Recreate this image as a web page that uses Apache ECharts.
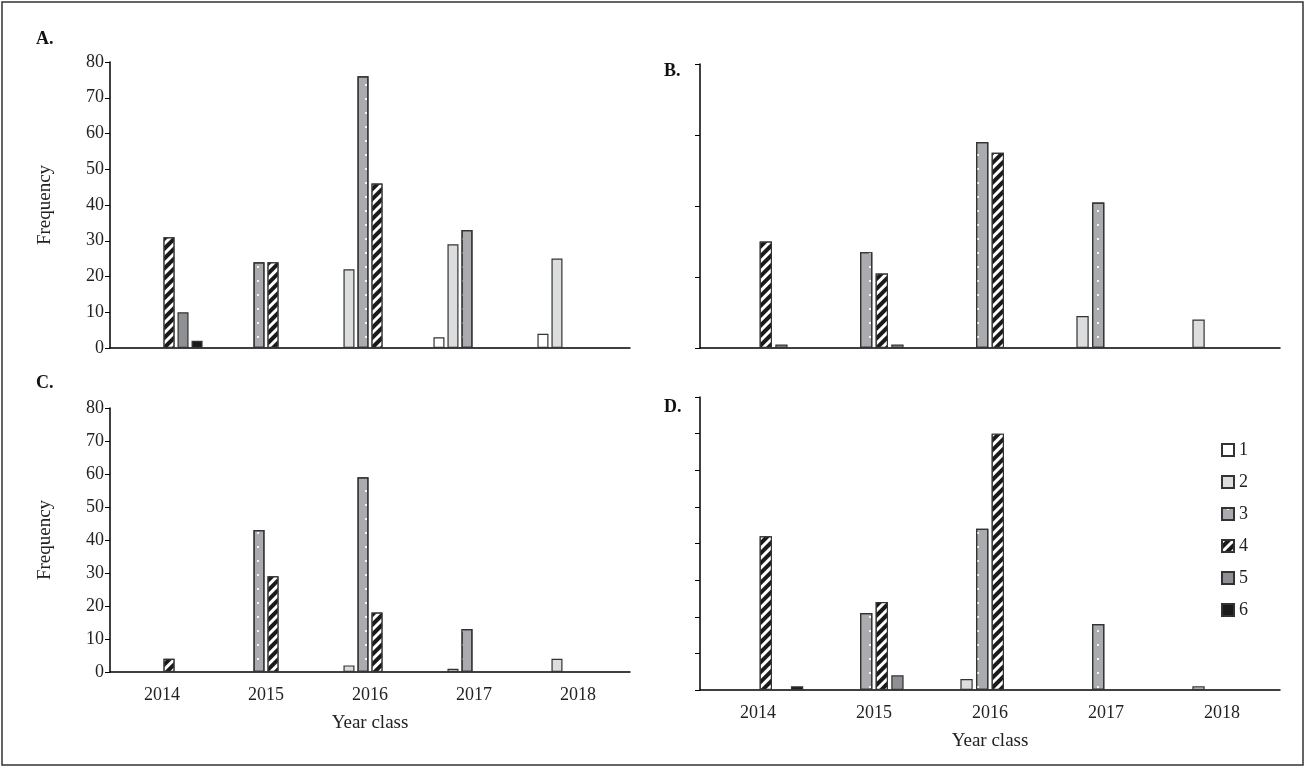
<!DOCTYPE html>
<html>
<head>
<meta charset="utf-8">
<script src="https://cdn.jsdelivr.net/npm/echarts@6/dist/echarts.min.js"></script>
<style>
  html, body { margin: 0; padding: 0; background: #fff; }
  #chart { width: 1306px; height: 768px; }
</style>
</head>
<body>
<div id="chart"></div>
<script>
// 年级别
const years = ['2014', '2015', '2016', '2017', '2018'];
const ageNames = ['1', '2', '3', '4', '5', '6'];

// 各面板数据 (每行为一个年龄组, 按年份)
const panelA = [
  [null, null, null, 3, 4],
  [null, null, 22, 29, 25],
  [null, 24, 76, 33, null],
  [31, 24, 46, null, null],
  [10, null, null, null, null],
  [2, null, null, null, null]
];
const panelB = [
  [null, null, null, null, null],
  [null, null, null, 9, 8],
  [null, 27, 58, 41, null],
  [30, 21, 55, null, null],
  [1, 1, null, null, null],
  [null, null, null, null, null]
];
const panelC = [
  [null, null, null, null, null],
  [null, null, 2, 1, 4],
  [null, 43, 59, 13, null],
  [4, 29, 18, null, null],
  [null, null, null, null, null],
  [null, null, null, null, null]
];
const panelD = [
  [null, null, null, null, null],
  [null, null, 3, null, 1],
  [null, 21, 44, 18, null],
  [42, 24, 70, null, null],
  [null, 4, null, null, null],
  [1, null, null, null, null]
];

const serif = 'Liberation Serif';
const fills = [
  { color: '#ffffff' },
  { color: '#dcdddf' },
  { color: '#a9abae', decal: { symbol: 'rect', symbolSize: 1, color: '#f4f4f4', dashArrayX: [[0, 5, 2, 5]], dashArrayY: [2, 12] } },
  { color: '#1a1a1a', decal: { symbol: 'rect', color: '#ffffff', dashArrayX: [1, 0], dashArrayY: [3, 4], rotation: -Math.PI / 4 } },
  { color: '#8e9093' },
  { color: '#1a1a1a' }
];

const grids = [
  { left: 110, top: 62, width: 520, height: 286 },
  { left: 700, top: 64, width: 580, height: 284 },
  { left: 110, top: 408, width: 520, height: 264 },
  { left: 700, top: 397, width: 580, height: 293 }
];
const showLabels = [false, false, true, true];
const showYLabels = [true, false, true, false];
const yIntervals = [10, 20, 10, 10];
const panels = [panelA, panelB, panelC, panelD];

let dom = echarts.init(document.getElementById('chart'));

let xAxis = grids.map((g, i) => ({
  type: 'category',
  gridIndex: i,
  data: years,
  axisLine: { lineStyle: { color: '#000', width: 1.5 } },
  axisTick: { show: false },
  axisLabel: { show: showLabels[i], color: '#222', fontFamily: serif, fontSize: 18, margin: 14 },
  name: showLabels[i] ? 'Year class' : '',
  nameLocation: 'middle',
  nameGap: 42,
  nameTextStyle: { color: '#222', fontFamily: serif, fontSize: 19 }
}));

let yAxis = grids.map((g, i) => ({
  type: 'value',
  gridIndex: i,
  min: 0,
  max: 80,
  interval: yIntervals[i],
  splitLine: { show: false },
  axisLine: { show: true, lineStyle: { color: '#000', width: 1.5 } },
  axisTick: { show: true, length: 5, lineStyle: { color: '#000' } },
  axisLabel: { show: showYLabels[i], color: '#222', fontFamily: serif, fontSize: 18, margin: 6 },
  name: showYLabels[i] ? 'Frequency' : '',
  nameLocation: 'middle',
  nameGap: 55,
  nameTextStyle: { color: '#222', fontFamily: serif, fontSize: 19 }
}));

let series = [];
panels.forEach((p, i) => {
  p.forEach((row, k) => {
    series.push({
      name: ageNames[k],
      type: 'bar',
      xAxisIndex: i,
      yAxisIndex: i,
      data: row,
      barGap: '27%',
      barCategoryGap: '22%',
      itemStyle: Object.assign({ borderColor: '#333', borderWidth: 1.2 }, fills[k])
    });
  });
});

dom.setOption({
  animation: false,
  aria: { enabled: true, decal: { show: false } },
  grid: grids,
  xAxis: xAxis,
  yAxis: yAxis,
  legend: {
    data: ageNames,
    icon: 'rect',
    orient: 'vertical',
    left: 1216,
    top: 436,
    itemWidth: 12,
    itemHeight: 12,
    itemGap: 14,
    textStyle: { color: '#222', fontFamily: serif, fontSize: 18 }
  },
  graphic: [
    { type: 'rect', shape: { x: 2, y: 2, width: 1301, height: 763 }, style: { fill: 'none', stroke: '#333', lineWidth: 1.5 } },
    { type: 'text', left: 36, top: 30, style: { text: 'A.', font: 'bold 18px "Liberation Serif"', fill: '#111' } },
    { type: 'text', left: 664, top: 62, style: { text: 'B.', font: 'bold 18px "Liberation Serif"', fill: '#111' } },
    { type: 'text', left: 36, top: 374, style: { text: 'C.', font: 'bold 18px "Liberation Serif"', fill: '#111' } },
    { type: 'text', left: 664, top: 398, style: { text: 'D.', font: 'bold 18px "Liberation Serif"', fill: '#111' } }
  ],
  series: series
});
dom.resize();
</script>
</body>
</html>
